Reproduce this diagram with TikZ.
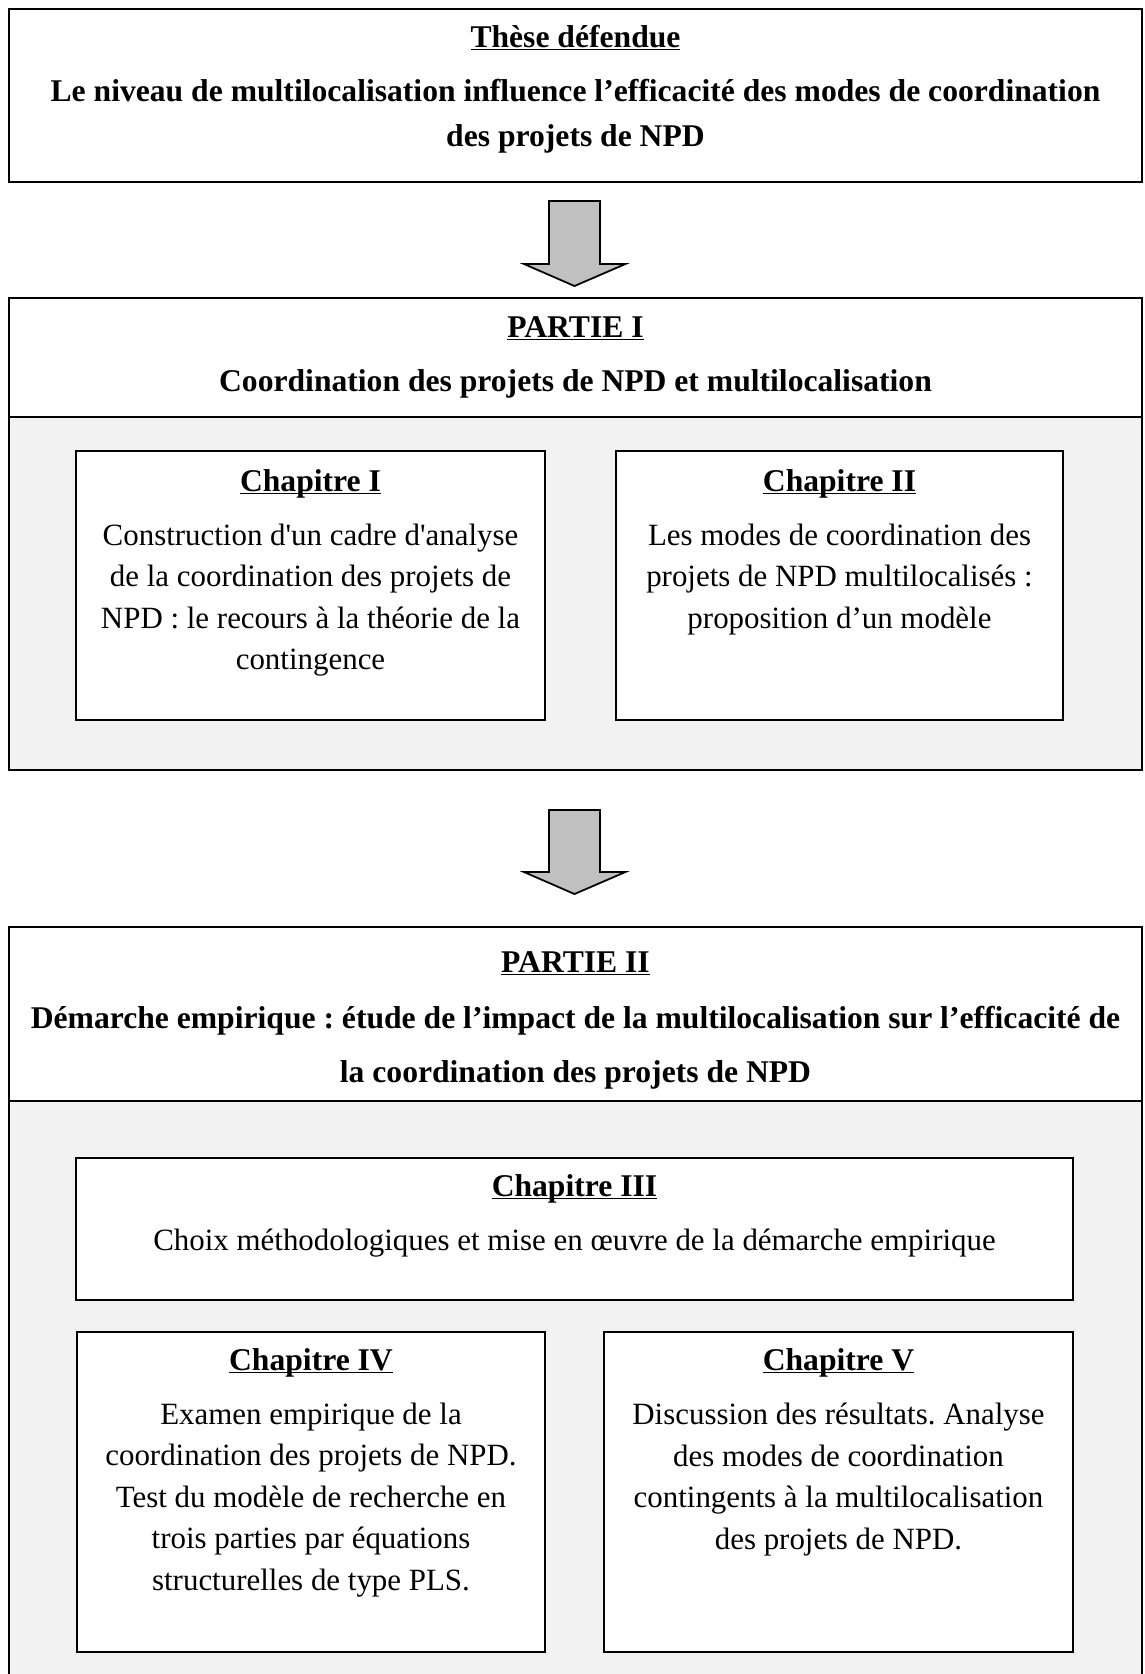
\documentclass[tikz,border=0pt]{standalone}
\usepackage{fontspec}
\setmainfont{Liberation Serif}[Ligatures=TeXOff]
\usetikzlibrary{calc}

\definecolor{partgray}{HTML}{F2F2F2}
\definecolor{arrowgray}{HTML}{C0C0C0}

\newcommand{\ulhead}[1]{\underline{\smash{#1}}}

\begin{document}
\frenchspacing
\begin{tikzpicture}[x=0.02cm,y=0.02cm]
\tikzstyle{every node}+=[inner sep=0pt, outer sep=0pt]
\tikzstyle{outerbox}=[draw=black, line width=1.1pt, fill=white]
\tikzstyle{bodybox}=[draw=black, line width=1.1pt, fill=partgray]
\tikzstyle{chapbox}=[draw=black, line width=1pt, fill=white]
\tikzstyle{head}=[anchor=base, align=center, font=\fontsize{18}{25.6}\selectfont\bfseries]
\tikzstyle{body}=[anchor=base, align=center, font=\fontsize{17.6}{23.6}\selectfont]
\tikzstyle{blockarrow}=[draw=black, line width=1pt, fill=arrowgray, line join=miter]
\useasboundingbox (0,0) rectangle (1144,-1674);
\clip (0,0) rectangle (1144,-1674);
% these (base = last line)
\node[outerbox, minimum width=22.68cm, minimum height=3.46cm] (these) at (575.5,-95.5) {};
\node[head] (theseTitle) at (575.5,-47) {\ulhead{Thèse défendue}};
\node[head] (theseText) at (575.5,-146) {Le niveau de multilocalisation influence l’efficacité des modes de coordination\\des projets de NPD};
% partie I
\node[outerbox, minimum width=22.68cm, minimum height=2.38cm] (partAhead) at (575.5,-357.5) {};
\node[bodybox, minimum width=22.68cm, minimum height=7.06cm] (partAbody) at (575.5,-593.5) {};
\node[head] (partAtitle) at (575.5,-337) {\ulhead{PARTIE I}};
\node[head] (partAtext) at (575.5,-391) {Coordination des projets de NPD et multilocalisation};
\node[chapbox, minimum width=9.38cm, minimum height=5.38cm] (chapA) at (310.5,-585.5) {};
\node[head] (chapAtitle) at (310.5,-491) {\ulhead{Chapitre I}};
\node[body] (chapAtext) at (310.5,-669.5) {Construction d'un cadre d'analyse\\de la coordination des projets de\\NPD : le recours à la théorie de la\\contingence};
\node[chapbox, minimum width=8.94cm, minimum height=5.38cm] (chapB) at (839.5,-585.5) {};
\node[head] (chapBtitle) at (839.5,-491) {\ulhead{Chapitre II}};
\node[body] (chapBtext) at (839.5,-628) {Les modes de coordination des\\projets de NPD multilocalisés :\\proposition d’un modèle};
% partie II
\node[outerbox, minimum width=22.68cm, minimum height=3.48cm] (partBhead) at (575.5,-1014) {};
\node[bodybox, minimum width=22.68cm, minimum height=11.98cm] (partBbody) at (575.5,-1400.5) {};
\node[head] (partBtitle) at (575.5,-972) {\ulhead{PARTIE II}};
\node[head, font=\fontsize{18}{30.6}\selectfont\bfseries] (partBtext) at (575.5,-1082) {Démarche empirique : étude de l’impact de la multilocalisation sur l’efficacité de\\la coordination des projets de NPD};
\node[chapbox, minimum width=19.94cm, minimum height=2.84cm] (chapC) at (574.5,-1229) {};
\node[head] (chapCtitle) at (574.5,-1196) {\ulhead{Chapitre III}};
\node[body] (chapCtext) at (574.5,-1250) {Choix méthodologiques et mise en œuvre de la démarche empirique};
\node[chapbox, minimum width=9.36cm, minimum height=6.4cm] (chapD) at (311,-1492) {};
\node[head] (chapDtitle) at (311,-1370) {\ulhead{Chapitre IV}};
\node[body] (chapDtext) at (311,-1590) {Examen empirique de la\\coordination des projets de NPD.\\Test du modèle de recherche en\\trois parties par équations\\structurelles de type PLS.};
\node[chapbox, minimum width=9.38cm, minimum height=6.4cm] (chapE) at (838.5,-1492) {};
\node[head] (chapEtitle) at (838.5,-1370) {\ulhead{Chapitre V}};
\node[body] (chapEtext) at (838.5,-1549) {Discussion des résultats. Analyse\\des modes de coordination\\contingents à la multilocalisation\\des projets de NPD.};
% arrows
\coordinate (arrowAtop) at ($(these.south)+(-1,-19)$);
\coordinate (arrowAtip) at ($(partAhead.north)+(-1,12)$);
\draw[blockarrow] (arrowAtop) ++(-25.5,0) -- ++(51,0) -- ++(0,-63) -- ++(25.5,0) -- (arrowAtip) -- ++(-50.5,22) -- ++(25,0) -- cycle;
\coordinate (arrowBtop) at ($(partAbody.south)+(-1,-40)$);
\coordinate (arrowBtip) at ($(partBhead.north)+(-1,33)$);
\draw[blockarrow] (arrowBtop) ++(-25.5,0) -- ++(51,0) -- ++(0,-62) -- ++(25.5,0) -- (arrowBtip) -- ++(-50.5,22) -- ++(25,0) -- cycle;
\end{tikzpicture}
\end{document}
